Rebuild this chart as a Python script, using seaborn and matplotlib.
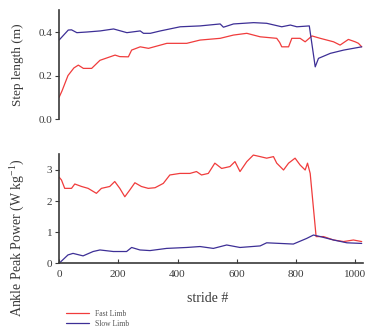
"""
Step length and ankle peak power per stride, fast vs slow limb
"""

import numpy as np
import pandas as pd
import matplotlib
matplotlib.use('Agg')
import matplotlib.pyplot as plt
import seaborn as sns

# Step length (m), fast limb
fast_step_stride = [0, 10, 30, 50, 65, 82, 110, 138, 189, 205, 234, 245, 274, 302, 364,
                    431, 476, 544, 589, 634, 679, 735, 745, 752, 775, 786, 814, 831, 854,
                    882, 927, 949, 977, 1000, 1011, 1022]
fast_step = [0.10, 0.13, 0.20, 0.235, 0.248, 0.233, 0.233, 0.27, 0.294, 0.287, 0.286, 0.317,
             0.332, 0.325, 0.348, 0.348, 0.363, 0.371, 0.386, 0.394, 0.378, 0.371, 0.352,
             0.332, 0.332, 0.371, 0.371, 0.355, 0.382, 0.371, 0.355, 0.34, 0.366, 0.355,
             0.348, 0.332]

# Step length (m), slow limb
slow_step_stride = [0, 31, 42, 60, 94, 139, 184, 229, 274, 285, 308, 342, 409, 476, 544, 555,
                    589, 657, 701, 752, 781, 803, 845, 865, 876, 916, 961, 1022]
slow_step = [0.363, 0.409, 0.41, 0.397, 0.40, 0.405, 0.414, 0.397, 0.405, 0.394, 0.394, 0.405,
             0.424, 0.428, 0.437, 0.422, 0.437, 0.443, 0.44, 0.424, 0.432, 0.424, 0.428,
             0.24, 0.279, 0.302, 0.317, 0.332]

# Ankle peak power (W/kg), fast limb
fast_pow_stride = [0, 8, 19, 42, 53, 76, 98, 126, 143, 171, 188, 205, 222, 239, 256, 278, 301,
                   324, 352, 374, 408, 442, 464, 481, 504, 526, 549, 577, 594, 611, 634, 656,
                   679, 701, 724, 735, 758, 775, 797, 814, 831, 839, 848, 868, 893, 927, 961,
                   994, 1022]
fast_pow = [2.77, 2.68, 2.41, 2.41, 2.55, 2.47, 2.41, 2.25, 2.41, 2.47, 2.63, 2.41, 2.14, 2.36,
            2.59, 2.47, 2.41, 2.43, 2.57, 2.84, 2.89, 2.89, 2.95, 2.84, 2.89, 3.22, 3.05, 3.11,
            3.27, 2.95, 3.27, 3.48, 3.43, 3.38, 3.43, 3.22, 3.0, 3.22, 3.38, 3.16, 3.0, 3.22,
            2.89, 0.86, 0.86, 0.75, 0.70, 0.75, 0.70]

# Ankle peak power (W/kg), slow limb
slow_pow_stride = [0, 30, 47, 81, 115, 138, 183, 228, 245, 273, 307, 363, 431, 476, 521, 566,
                   611, 679, 701, 746, 791, 836, 859, 882, 927, 972, 1022]
slow_pow = [0.0, 0.27, 0.32, 0.24, 0.38, 0.43, 0.38, 0.38, 0.51, 0.43, 0.41, 0.48, 0.51, 0.54,
            0.48, 0.59, 0.51, 0.56, 0.66, 0.64, 0.62, 0.80, 0.91, 0.86, 0.75, 0.66, 0.64]

RED = '#f03c3c'
BLUE = '#3d2f96'
INK = '#3a3a3a'

sns.set_style('ticks')
plt.rcParams['font.family'] = ['Liberation Serif', 'DejaVu Serif']
plt.rcParams['mathtext.fontset'] = 'custom'
plt.rcParams['mathtext.rm'] = 'Liberation Serif'
plt.rcParams['mathtext.it'] = 'Liberation Serif:italic'
plt.rcParams['mathtext.default'] = 'regular'

fig = plt.figure(figsize=(3.67, 3.30), dpi=100)
ax1 = fig.add_axes([0.161, 0.639, 0.827, 0.33])
ax2 = fig.add_axes([0.161, 0.202, 0.827, 0.33])

sns.lineplot(x=fast_step_stride, y=fast_step, ax=ax1, color=RED, lw=0.9, label='Fast Limb')
sns.lineplot(x=slow_step_stride, y=slow_step, ax=ax1, color=BLUE, lw=0.9, label='Slow Limb')
sns.lineplot(x=fast_pow_stride, y=fast_pow, ax=ax2, color=RED, lw=0.9, label='Fast Limb')
sns.lineplot(x=slow_pow_stride, y=slow_pow, ax=ax2, color=BLUE, lw=0.9, label='Slow Limb')

# top panel: left axis only
ax1.set_xlim(0, 1025)
ax1.set_ylim(0, 0.5)
ax1.set_yticks([0.0, 0.2, 0.4])
ax1.set_yticklabels(['0.0', '0.2', '0.4'])
ax1.set_xticks([])
sns.despine(ax=ax1, bottom=True)
ax1.get_legend().remove()

ax2.set_xlim(0, 1025)
ax2.set_ylim(0, 3.5)
ax2.set_yticks([0, 1, 2, 3])
ax2.set_xticks([0, 200, 400, 600, 800, 1000])
sns.despine(ax=ax2)
ax2.get_legend().remove()

for ax in (ax1, ax2):
    ax.set_xlabel('')
    ax.set_ylabel('')
    ax.tick_params(axis='y', direction='out', length=3, width=0.8, labelsize=8, pad=2,
                   colors=INK, labelcolor=INK)
    ax.tick_params(axis='x', direction='in', length=3, width=0.8, labelsize=8, pad=5,
                   colors=INK, labelcolor=INK)
    for s in ax.spines.values():
        s.set_linewidth(1.2)
        s.set_color(INK)

fig.text(0.049, 0.803, 'Step length (m)', rotation=90, ha='center', va='center',
         fontsize=9.5, color=INK)
fig.text(0.049, 0.28, r'Ankle Peak Power (W kg$^{-1}$)', rotation=90, ha='center',
         va='center', fontsize=10, color=INK)
fig.text(0.565, 0.095, 'stride #', ha='center', va='center', fontsize=10, color=INK)

handles, labels = ax2.get_legend_handles_labels()
fig.legend(handles, labels, loc='lower left', bbox_to_anchor=(0.16, -0.015), frameon=False,
           fontsize=5.5, handlelength=3.0, handletextpad=0.8, labelspacing=0.3,
           labelcolor='#555555')

fig.savefig('out.png', dpi=100)
